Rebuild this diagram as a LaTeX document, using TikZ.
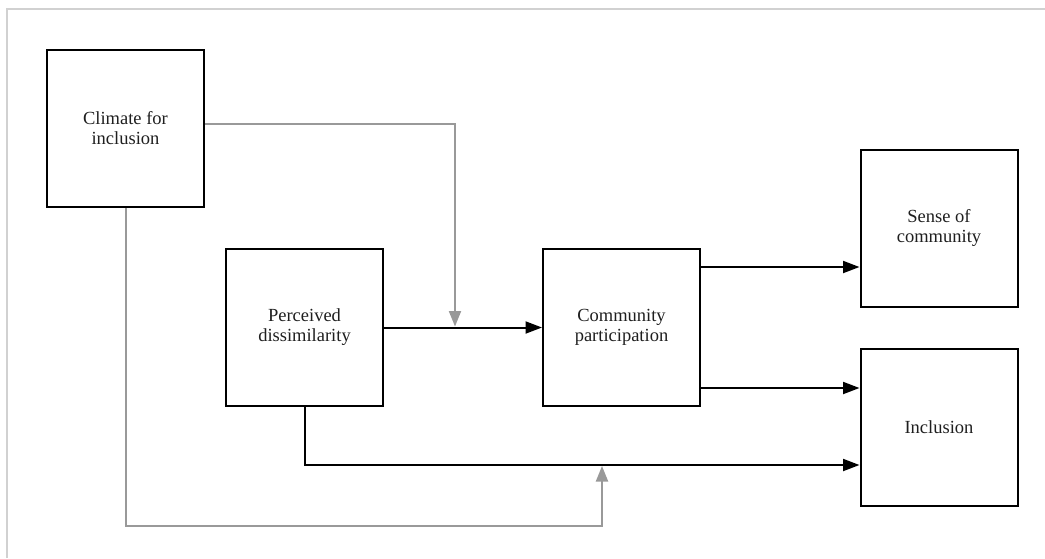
\documentclass[tikz,border=0pt]{standalone}
\usepackage{fontspec}
\setmainfont{Liberation Serif}
\usetikzlibrary{arrows.meta}
\begin{document}
\begin{tikzpicture}[x=1pt,y=-1pt,
  box/.style={draw=black, line width=2pt, minimum width=157pt, minimum height=157pt,
    inner sep=0pt, align=center, font=\fontsize{18.5}{20}\selectfont, text=black!88},
  blk/.style={draw=black, line width=2pt, -{Triangle[length=16.5pt,width=12pt]}},
  gry/.style={draw=black!40, line width=2pt, -{Triangle[length=15.5pt,width=12pt]}, shorten >=1pt}]
\useasboundingbox (0,0) rectangle (1045,558);
\draw[black!18, line width=1.5pt] (7,558) -- (7,9) -- (1045,9);

\node[box] (climate) at (125.5,128.5) {Climate for\\inclusion};
\node[box] (perc) at (304.5,327.5) {Perceived\\dissimilarity};
\node[box] (comm) at (621.5,327.5) {Community\\participation};
\node[box] (sense) at (939,228) {Sense of\\community};
\node[box] (incl) at (939,427) {Inclusion};

\coordinate (rtop) at (0,124);
\coordinate (r1) at (0,267);
\coordinate (r2) at (0,388);
\coordinate (r3) at (0,465);
\coordinate (r4) at (0,526);
\coordinate (c1) at (455,0);
\coordinate (c2) at (602,0);

\draw[blk] (perc.east) -- (comm.west);
\draw[blk] (comm.east |- r1) -- (sense.west |- r1);
\draw[blk] (comm.east |- r2) -- (incl.west |- r2);
\draw[blk] (perc.south) -- (perc.south |- r3) -- (incl.west |- r3);
\draw[gry] (climate.east |- rtop) -- (c1 |- rtop) -- (c1 |- perc.east);
\draw[gry] (climate.south) -- (climate.south |- r4) -- (c2 |- r4) -- (c2 |- r3);
\end{tikzpicture}
\end{document}
